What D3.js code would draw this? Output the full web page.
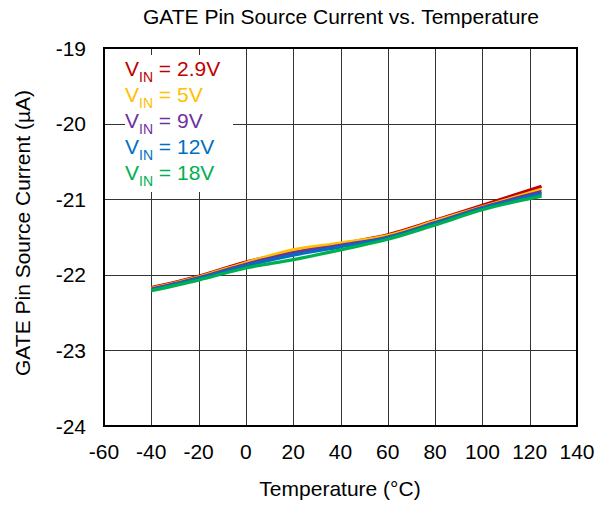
<!DOCTYPE html>
<html><head><meta charset="utf-8">
<script src="https://cdn.jsdelivr.net/npm/d3@7"></script>
<style>body{margin:0;background:#fff}svg{display:block;font-family:"Liberation Sans",Arial,sans-serif}</style>
</head><body>
<script>
const temps = [-40, -20, 0, 20, 40, 60, 80, 100, 125];
const vin29 = [-22.17, -22.02, -21.83, -21.70, -21.59, -21.47, -21.28, -21.08, -20.83];
const vin5  = [-22.18, -22.03, -21.84, -21.67, -21.58, -21.48, -21.29, -21.10, -20.87];
const vin9  = [-22.19, -22.04, -21.86, -21.71, -21.61, -21.50, -21.31, -21.11, -20.90];
const vin12 = [-22.20, -22.05, -21.88, -21.74, -21.63, -21.51, -21.32, -21.12, -20.93];
const vin18 = [-22.21, -22.07, -21.91, -21.80, -21.67, -21.53, -21.34, -21.14, -20.96];
const seriesNames = ["2.9V", "5V", "9V", "12V", "18V"];
const seriesValues = [vin29, vin5, vin9, vin12, vin18];
const colors = ["#C00000", "#FFC000", "#7030A0", "#0070C0", "#00B050"];
const xTicks = [-60, -40, -20, 0, 20, 40, 60, 80, 100, 120, 140];
const yTicks = [-19, -20, -21, -22, -23, -24];

const W = 606, H = 507;
const L = 104, R = 577, T = 48, B = 426;
const svg = d3.select("body").append("svg").attr("width", W).attr("height", H);
const x = d3.scaleLinear().domain([-60, 140]).range([L, R]);
const y = d3.scaleLinear().domain([-24, -19]).range([B, T]);

// gridlines
const g = svg.append("g");
g.selectAll(".vx").data(xTicks.slice(1, -1)).enter().append("line")
  .attr("x1", d => Math.round(x(d)) + 0.5).attr("x2", d => Math.round(x(d)) + 0.5)
  .attr("y1", T).attr("y2", B).attr("stroke", "#333").attr("stroke-width", 1);
g.selectAll(".hy").data(yTicks.slice(1, -1)).enter().append("line")
  .attr("y1", d => Math.round(y(d)) + 0.5).attr("y2", d => Math.round(y(d)) + 0.5)
  .attr("x1", L).attr("x2", R).attr("stroke", "#333").attr("stroke-width", 1);

// lines
const line = d3.line().x(d => x(d[0])).y(d => y(d[1])).curve(d3.curveMonotoneX);
seriesValues.forEach((vals, i) => {
  svg.append("path").datum(temps.map((t, j) => [t, vals[j]]))
    .attr("d", line).attr("fill", "none").attr("stroke", colors[i]).attr("stroke-width", 3.2);
});

// legend
svg.append("rect").attr("x", 125).attr("y", 55).attr("width", 108).attr("height", 137).attr("fill", "#fff");
seriesNames.forEach((n, i) => {
  const t = svg.append("text").attr("x", 125).attr("y", 76 + i * 26)
    .attr("fill", colors[i]).attr("font-size", 21);
  t.append("tspan").text("V");
  t.append("tspan").attr("font-size", 14).attr("dy", 6).text("IN");
  t.append("tspan").attr("dy", -6).text(" = " + n);
});

// border
svg.append("rect").attr("x", L).attr("y", T).attr("width", R - L).attr("height", B - T)
  .attr("fill", "none").attr("stroke", "#000").attr("stroke-width", 2);

// tick labels
svg.selectAll(".xl").data(xTicks).enter().append("text")
  .attr("x", d => x(d)).attr("y", 459).attr("text-anchor", "middle")
  .attr("font-size", 21).attr("fill", "#000").text(d => d);
svg.selectAll(".yl").data(yTicks).enter().append("text")
  .attr("x", 86).attr("y", d => y(d) + 7.5).attr("text-anchor", "end")
  .attr("font-size", 21).attr("fill", "#000").text(d => d);

// titles
svg.append("text").attr("x", 341).attr("y", 24).attr("text-anchor", "middle")
  .attr("font-size", 21).text("GATE Pin Source Current vs. Temperature");
svg.append("text").attr("x", 340).attr("y", 496).attr("text-anchor", "middle")
  .attr("font-size", 21).text("Temperature (°C)");
svg.append("text").attr("transform", "translate(30,233) rotate(-90)").attr("text-anchor", "middle")
  .attr("font-size", 21).text("GATE Pin Source Current (µA)");
</script>
</body></html>
